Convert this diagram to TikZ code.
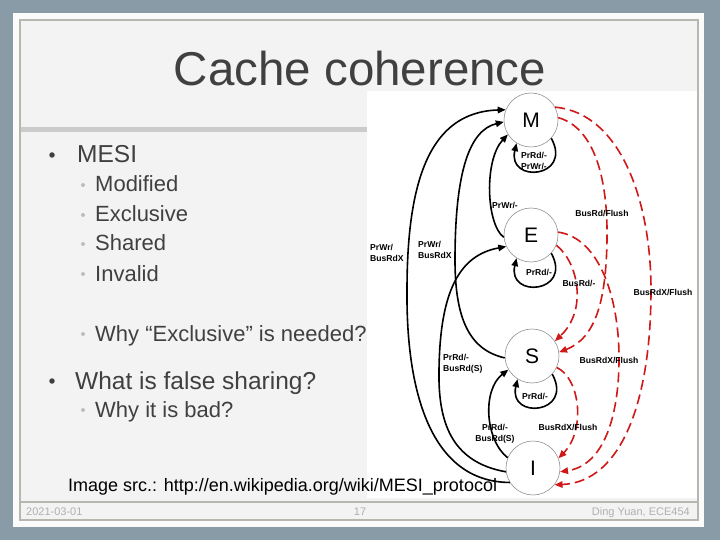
\documentclass[tikz,border=0pt]{standalone}
\usepackage{fontspec}
\setmainfont{Liberation Sans}
\usetikzlibrary{arrows.meta,calc}
\definecolor{bgblue}{HTML}{889BA6}
\definecolor{slidefill}{HTML}{F3F3F3}
\definecolor{slideline}{HTML}{B7B7AF}
\definecolor{sepgray}{HTML}{CBCBCB}
\definecolor{txtgray}{HTML}{404040}
\definecolor{dotgray}{HTML}{BDBDBD}
\definecolor{footgray}{HTML}{B0B0B0}
\definecolor{arrred}{HTML}{D01818}
\begin{document}
\begin{tikzpicture}[x=1pt,y=-1pt,
  state/.style={circle,draw=gray!85,line width=0.6pt,minimum size=54pt,inner sep=0pt,font=\fontsize{21}{21}\selectfont},
  tr/.style={line width=1.6pt,-{Triangle[length=8pt,width=6.5pt]}},
  bus/.style={line width=1.6pt,arrred,dash pattern=on 10pt off 5pt,-{Triangle[length=8pt,width=6.5pt]}},
  lbl/.style={font=\fontsize{8.6}{10.5}\selectfont\bfseries,inner sep=0pt},
  mainb/.style={font=\fontsize{24.5}{26}\selectfont,text=txtgray,anchor=base west,inner sep=0pt},
  subb/.style={font=\fontsize{22}{24}\selectfont,text=txtgray,anchor=base west,inner sep=0pt},
  maindot/.style={circle,fill=txtgray,minimum size=5.5pt,inner sep=0pt},
  subdot/.style={circle,fill=dotgray,minimum size=4pt,inner sep=0pt},
  foot/.style={font=\fontsize{11}{12}\selectfont,text=footgray,inner sep=0pt}
]
\useasboundingbox (0,0) rectangle (720,540);
% background and slide
\fill[bgblue] (0,0) rectangle (720,540);
\fill[white!97!gray] (13,13) rectangle (704,527);
\fill[slidefill] (20,20) rectangle (698,520);
\fill[sepgray] (20,127) rectangle (698,132);
\draw[slideline,line width=1.5pt] (20,20) rectangle (698,520);
\draw[slideline,line width=1.5pt] (20,502) -- (698,502);
% title
\node[font=\fontsize{47.5}{50}\selectfont,text=txtgray,anchor=base,inner sep=0pt] (title) at (360,86) {Cache coherence};
% bullets
\node[maindot] (d0) at (52,155) {};
\node[mainb] (t0) at (77,162.5) {MESI};
\node[subdot] (d1) at (83,185) {};
\node[subb] (t1) at (95,192) {Modified};
\node[subdot] (d2) at (83,215) {};
\node[subb] (t2) at (95,222) {Exclusive};
\node[subdot] (d3) at (83,244) {};
\node[subb] (t3) at (95,251) {Shared};
\node[subdot] (d4) at (83,274) {};
\node[subb] (t4) at (95,281) {Invalid};
\node[subdot] (d5) at (83,334) {};
\node[subb] (t5) at (95,341) {Why “Exclusive” is needed?};
\node[maindot] (d6) at (52,381) {};
\node[mainb] (t6) at (75,389.5) {What is false sharing?};
\node[subdot] (d7) at (83,410) {};
\node[subb] (t7) at (95,417) {Why it is bad?};
% diagram image
\fill[white] (367,91) rectangle (697,498);
\node[state] (M) at (531,120) {M};
\node[state] (E) at (531,235) {E};
\node[state] (S) at (532,356) {S};
\node[state] (I) at (533,468) {I};
% black transitions
\draw[tr] (I.212) .. controls (430,482) and (406,390) .. (407,290) .. controls (407,180) and (430,112) .. (M.158);
\draw[tr] (S.184) .. controls (470,350) and (455,320) .. (455,260) .. controls (455,170) and (470,130) .. (M.184);
\draw[tr] (E.185) .. controls (486,224) and (484,160) .. (M.212);
\draw[tr] (I.188) .. controls (450,462) and (438,420) .. (439,370) .. controls (440,290) and (460,255) .. (E.205);
\draw[tr] (I.158) .. controls (485,440) and (482,390) .. (S.210);
% self loops
\draw[tr] (M.-42) .. controls ($(M.center)+(42,58)$) and ($(M.center)+(-24,64)$) .. (M.238);
\draw[tr] (E.-42) .. controls ($(E.center)+(42,58)$) and ($(E.center)+(-24,64)$) .. (E.238);
\draw[tr] (S.-42) .. controls ($(S.center)+(42,58)$) and ($(S.center)+(-24,64)$) .. (S.238);
% red bus transitions
\draw[bus] (M.28) .. controls (620,113) and (651,200) .. (651,290) .. controls (651,400) and (622,482) .. (I.-38);
\draw[bus] (M.5) .. controls (595,128) and (608,180) .. (607,240) .. controls (606,300) and (596,338) .. (S.8);
\draw[bus] (E.6) .. controls (600,238) and (620,300) .. (619,363) .. controls (618,425) and (600,466) .. (I.-8);
\draw[bus] (E.-22) .. controls (578,262) and (588,310) .. (S.33);
\draw[bus] (S.-25) .. controls (580,378) and (586,430) .. (I.21);
% labels
\node[lbl,anchor=west,align=left] (l1) at (370,253) {PrWr/\\BusRdX};
\node[lbl,anchor=west,align=left] (l2) at (418,250) {PrWr/\\BusRdX};
\node[lbl,anchor=west] (l3) at (492,205) {PrWr/-};
\node[lbl,anchor=west,align=left] (l4) at (443,364) {PrRd/-\\BusRd(S)};
\node[lbl,align=center] (l5) at (495,434) {PrRd/-\\BusRd(S)};
\node[lbl,align=center] (l6) at (534,161) {PrRd/-\\PrWr/-};
\node[lbl] (l7) at (539,272) {PrRd/-};
\node[lbl] (l8) at (535,396) {PrRd/-};
\node[lbl] (l9) at (602,213) {BusRd/Flush};
\node[lbl] (l10) at (579,283) {BusRd/-};
\node[lbl] (l11) at (663,292) {BusRdX/Flush};
\node[lbl] (l12) at (609,360) {BusRdX/Flush};
\node[lbl] (l13) at (568,427) {BusRdX/Flush};
% caption
\node[font=\fontsize{18}{20}\selectfont,anchor=base west,inner sep=0pt] (src) at (68,491) {Image src.: http://en.wikipedia.org/wiki/MESI\_protocol};
% footer
\node[foot,anchor=base west] (f1) at (26,515) {2021-03-01};
\node[foot,anchor=base] (f2) at (360,515) {17};
\node[foot,anchor=base east] (f3) at (690,515) {Ding Yuan, ECE454};
\end{tikzpicture}
\end{document}
